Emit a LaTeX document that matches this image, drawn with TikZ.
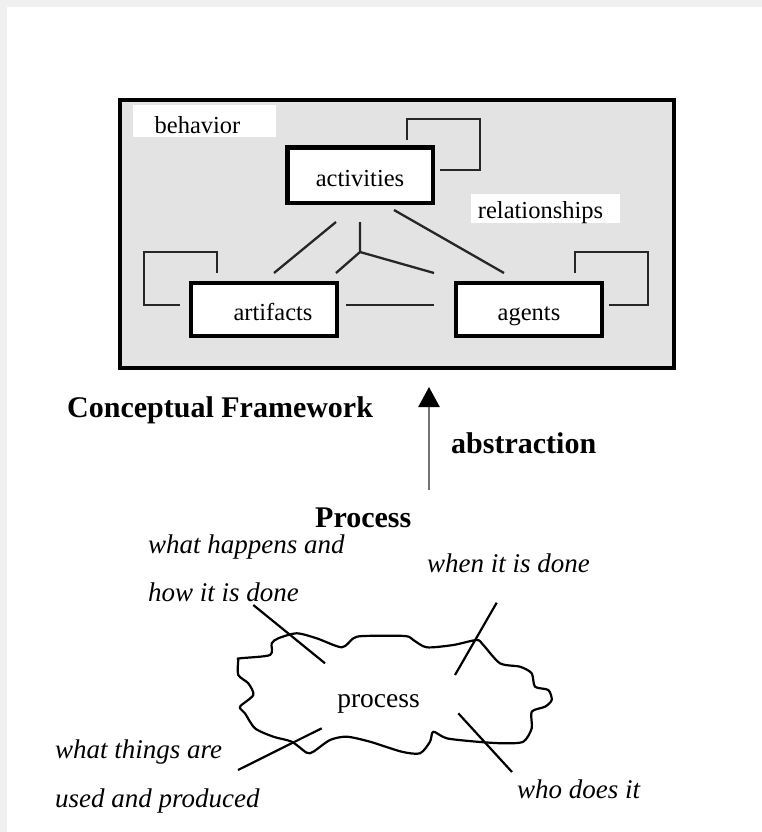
\documentclass[tikz,border=0pt]{standalone}
\usepackage{fontspec}
\setmainfont{Liberation Serif}
\usetikzlibrary{arrows.meta}
\begin{document}
\begin{tikzpicture}[x=1pt,y=-1pt,
  entity/.style={draw=black,line width=4.5pt,fill=white,minimum width=146pt,
    minimum height=53pt,inner sep=0pt,text height=22pt,text depth=0pt,
    font=\fontsize{24.5}{26}\selectfont},
  tag/.style={fill=white,inner sep=0pt,font=\fontsize{24.5}{26}\selectfont},
  link/.style={draw=black!85,line width=2.3pt},
  heading/.style={font=\bfseries\fontsize{30}{32}\selectfont,inner sep=0pt,anchor=base west},
  note/.style={font=\itshape\fontsize{27}{30}\selectfont,inner sep=0pt,anchor=base west},
  outline/.style={draw=black,line width=2.2pt,line join=round}]

% canvas with a soft grey edge along the top and left
\useasboundingbox (0,0) rectangle (762,832);
\fill[white] (0,0) rectangle (762,832);
\fill[black!6] (0,0) rectangle (762,7);
\fill[black!6] (0,0) rectangle (7,832);

% conceptual framework panel
\node[draw=black,line width=3.5pt,fill=black!11,minimum width=554pt,minimum height=268pt,inner sep=0pt]
  (frame) at (397,234) {};

\node[tag,minimum width=143pt,minimum height=32pt,text height=24pt,text depth=0pt]
  (behavior) at (204.5,121) {behavior\hspace*{14pt}};
\node[tag,minimum width=149pt,minimum height=29pt,text height=19pt,text depth=0pt]
  (relationships) at (545.5,208.5) {relationships\hspace*{10pt}};

\node[entity,minimum width=145.5pt,minimum height=55.5pt] (activities) at (360,175) {activities};
\node[entity] (artifacts) at (264,309.5) {\hspace*{18pt}artifacts};
\node[entity] (agents) at (529,309.5) {agents};

% relationship lines between the entities
\coordinate (actA) at (336,222);
\coordinate (artA) at (274,273);
\coordinate (actM) at (360,222);
\coordinate (fork) at (360,252);
\coordinate (artM) at (336,273);
\coordinate (agtM) at (434,273);
\coordinate (actB) at (394,210);
\coordinate (agtB) at (504,273);
\coordinate (artC) at (346,305);
\coordinate (agtC) at (434,305);

\draw[link] (actA) -- (artA);
\draw[link] (actM) -- (fork) -- (artM);
\draw[link] (fork) -- (agtM);
\draw[link] (actB) -- (agtB);
\draw[link] (artC) -- (agtC);

% self loops
\coordinate (actL1) at (407,140);
\coordinate (actL2) at (440,170);
\coordinate (artL1) at (217,273);
\coordinate (artL2) at (180,305);
\coordinate (agtL1) at (575,273);
\coordinate (agtL2) at (609,305);

\draw[link] (actL1) -- (407,119) -- (480,119) -- (480,170) -- (actL2);
\draw[link] (artL1) -- (217,252) -- (144,252) -- (144,305) -- (artL2);
\draw[link] (agtL1) -- (575,252) -- (648,252) -- (648,305) -- (agtL2);

% headings and abstraction arrow
\node[heading] (cf) at (67,417) {Conceptual Framework};
\node[heading] (abs) at (451,453) {abstraction};
\node[heading] (proc) at (315,527) {Process};

\coordinate (absFoot) at (429,490);
\coordinate (absTip) at (429,387);
\draw[draw=black!55,line width=2.5pt,
  -{Triangle[width=21pt,length=20pt,color=black,fill=black]}] (absFoot) -- (absTip);

% process cloud
\draw[outline,fill=white] plot[smooth cycle,tension=0.45] coordinates {
  (240,658.3) (270,655) (271.7,643.3) (278.3,638.3) (296.7,633.3) (316.7,638.3)
  (341.7,647.3) (353.3,638.3) (363.3,636) (405,636) (413.3,640) (426.7,647.3)
  (453.3,645) (476.7,640) (483.3,645) (500,663.3) (520,666.7) (531.7,673.3)
  (535,686.7) (548.3,690) (551.7,700) (545,706.7) (531.7,711.7) (531.7,728.3)
  (523.3,741.7) (503.3,743.3) (476.7,741.7) (446.7,738.3) (433.3,731.7) (430,741.7)
  (420,753.3) (401.7,751.7) (370,741.7) (346.7,736.7) (330,740) (313.3,751.7)
  (306.7,752.7) (291.7,741.7) (273.3,736.7) (255,728.3) (245,713.3) (240,706.7)
  (253.3,695) (248.3,683.3) (238.3,675) (238.3,660)};
\node[font=\fontsize{27.5}{30}\selectfont,inner sep=0pt,anchor=base] (process) at (378.5,707) {process};

% aspect labels with their pointers
\node[note] (what) at (148,553) {what happens and};
\node[note] (how) at (148,601) {how it is done};
\node[note] (when) at (427,572) {when it is done};
\node[note] (things) at (55,758) {what things are};
\node[note] (used) at (55,807) {used and produced};
\node[note] (who) at (517,798) {who does it};

\coordinate (howA) at (253.3,605);
\coordinate (howB) at (325,663.3);
\coordinate (whenA) at (496.7,602.7);
\coordinate (whenB) at (455,675);
\coordinate (thingsA) at (238,770);
\coordinate (thingsB) at (321.7,728.3);
\coordinate (whoA) at (458.3,713.3);
\coordinate (whoB) at (512,772);

\draw[outline] (howA) -- (howB);
\draw[outline] (whenA) -- (whenB);
\draw[outline] (thingsA) -- (thingsB);
\draw[outline] (whoA) -- (whoB);
\end{tikzpicture}
\end{document}
